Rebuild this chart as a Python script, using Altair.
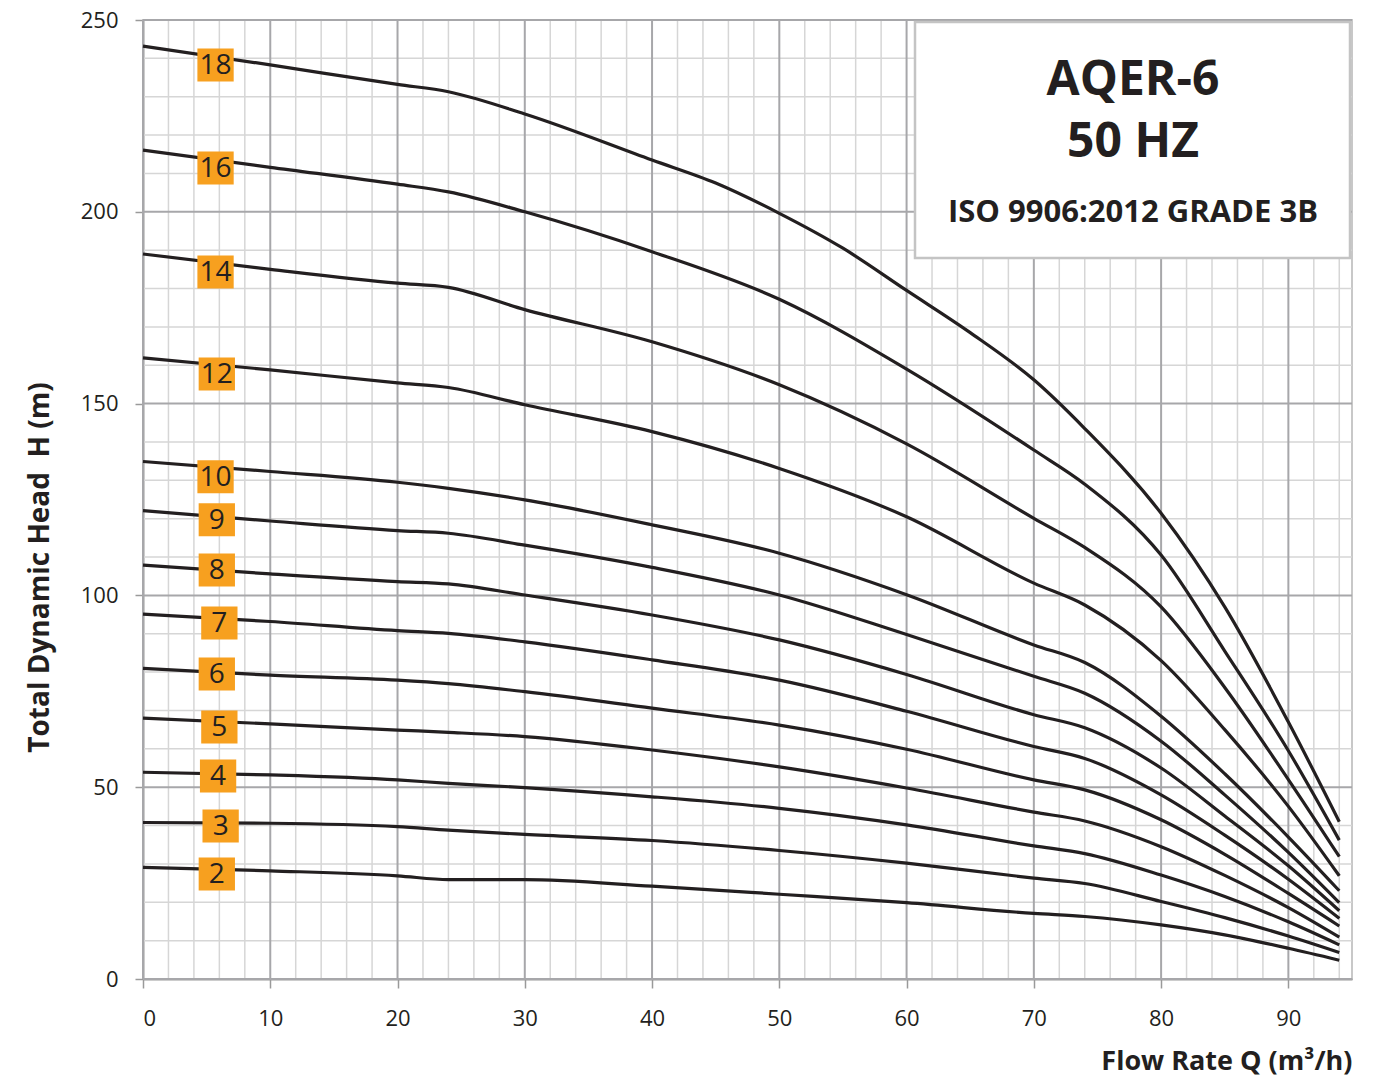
import altair as alt
import pandas as pd

# ---------------- data ----------------
Q_common = [0, 10, 20, 24, 30, 40, 50, 60, 70, 74, 80, 85, 90, 94]
Q_18 = [0, 10, 20, 24, 30, 40, 45, 50, 55, 60, 65, 70, 74, 80, 85, 90, 94]

H_18 = [243.2, 238.3, 233.2, 231.3, 225.5, 213.5, 207.5, 199.6, 190.5, 179.5, 168.5, 156.2, 143.5, 121.4, 97.0, 67.0, 41.0]
H_16 = [216.1, 211.6, 207.2, 205.2, 200.0, 189.6, 177.2, 159.0, 137.9, 129.0, 110.5, 85.5, 59.5, 36.2]
H_14 = [189.0, 185.0, 181.4, 180.3, 174.5, 166.1, 154.9, 139.5, 120.1, 112.5, 97.0, 76.0, 52.0, 31.9]
H_12 = [161.9, 158.8, 155.4, 154.2, 149.7, 142.7, 133.1, 120.5, 103.2, 97.5, 83.0, 65.0, 45.0, 26.9]
H_10 = [134.9, 132.3, 129.5, 127.9, 124.9, 118.4, 111.0, 100.2, 87.1, 82.5, 68.5, 53.5, 37.0, 23.0]
H_9 = [122.1, 119.4, 116.9, 116.2, 113.1, 107.3, 100.1, 89.8, 78.9, 74.5, 62.0, 48.0, 33.0, 19.9]
H_8 = [107.9, 105.6, 103.6, 103.0, 100.1, 94.9, 88.4, 79.4, 68.9, 65.5, 55.0, 42.5, 29.5, 17.8]
H_7 = [95.1, 93.2, 90.8, 90.1, 87.9, 83.2, 77.9, 69.8, 60.6, 57.5, 48.0, 37.5, 26.0, 15.8]
H_6 = [81.0, 79.2, 77.9, 77.0, 74.9, 70.6, 66.2, 59.9, 51.9, 49.3, 41.5, 32.5, 22.3, 13.8]
H_5 = [68.0, 66.5, 64.9, 64.3, 63.2, 59.7, 55.3, 49.8, 43.5, 41.2, 34.5, 27.0, 18.6, 10.9]
H_4 = [53.9, 53.2, 51.9, 51.0, 49.9, 47.5, 44.5, 40.2, 34.7, 32.7, 27.1, 21.5, 14.9, 8.9]
H_3 = [40.8, 40.6, 39.7, 38.8, 37.7, 36.1, 33.5, 30.2, 26.3, 24.9, 20.2, 16.0, 11.2, 6.9]
H_2 = [29.1, 28.2, 26.9, 25.9, 25.9, 24.2, 22.1, 19.9, 17.1, 16.3, 14.1, 11.5, 8.0, 4.9]

curves = {
    18: (Q_18, H_18), 16: (Q_common, H_16), 14: (Q_common, H_14),
    12: (Q_common, H_12), 10: (Q_common, H_10), 9: (Q_common, H_9),
    8: (Q_common, H_8), 7: (Q_common, H_7), 6: (Q_common, H_6),
    5: (Q_common, H_5), 4: (Q_common, H_4), 3: (Q_common, H_3),
    2: (Q_common, H_2),
}

label_text = ["18", "16", "14", "12", "10", "9", "8", "7", "6", "5", "4", "3", "2"]
label_q = [5.7, 5.7, 5.7, 5.8, 5.7, 5.8, 5.8, 6.0, 5.8, 6.0, 5.9, 6.1, 5.8]
label_h = [238.3, 211.4, 184.3, 157.7, 130.9, 119.7, 106.6, 92.8, 79.5, 65.7, 52.9, 39.9, 27.4]

box_lines = ["AQER-6", "50 HZ", "ISO 9906:2012 GRADE 3B"]

x_major = list(range(0, 91, 10))
x_minor = [v for v in range(0, 96, 2) if v % 10 != 0]
y_major = list(range(0, 251, 50))
y_minor = [v for v in range(0, 251, 10) if v % 50 != 0]

# ---------------- frames ----------------
rows = []
for st, (qs, hs) in curves.items():
    for q, h in zip(qs, hs):
        rows.append({"Q": q, "H": h, "stage": st})
df = pd.DataFrame(rows)
labels = pd.DataFrame({"Q": label_q, "H": label_h, "t": label_text})

W, Hh = 1209, 959
INK = "#231f20"
FONT = "Open Sans"
XT = "Flow Rate Q (m³/h)"
YT = "Total Dynamic Head\u00a0\u00a0H (m)"

xs = alt.Scale(domain=[0, 95], nice=False)
ys = alt.Scale(domain=[0, 250], nice=False)

x_axis = alt.Axis(
    values=x_major, grid=False, tickSize=9, tickWidth=1.5, tickColor="#9a9a9a",
    domainColor="#9a9a9a", domainWidth=2, labelFont=FONT, labelFontSize=22,
    labelColor=INK, labelPadding=20,
    title=XT, titleFont=FONT, titleFontSize=27, titleFontWeight="bold",
    titleColor=INK, titleX=W, titleY=82, titleAlign="right", titleBaseline="middle")
y_axis = alt.Axis(
    values=y_major, grid=False, tickSize=8, tickWidth=1.5, tickColor="#9a9a9a",
    domainColor="#9a9a9a", domainWidth=2, labelFont=FONT, labelFontSize=22,
    labelColor=INK, labelPadding=17,
    title=YT, titleFont=FONT, titleFontSize=28,
    titleFontWeight="bold", titleColor=INK, titleX=-103, titleY=547,
    titleAngle=270, titleAlign="center", titleBaseline="middle")

def X(f):
    return alt.X(f, scale=xs, axis=x_axis, title=XT)

def Y(f):
    return alt.Y(f, scale=ys, axis=y_axis, title=YT)

minor_x = alt.Chart(pd.DataFrame({"v": x_minor})).mark_rule(color="#d6d6d6", strokeWidth=1.5).encode(
    x=X("v:Q"))
minor_y = alt.Chart(pd.DataFrame({"v": y_minor})).mark_rule(color="#d6d6d6", strokeWidth=1.5).encode(
    y=Y("v:Q"))
major_x = alt.Chart(pd.DataFrame({"v": x_major})).mark_rule(color="#a7a7aa", strokeWidth=2).encode(
    x=X("v:Q"))
major_y = alt.Chart(pd.DataFrame({"v": y_major})).mark_rule(color="#a7a7aa", strokeWidth=2).encode(
    y=Y("v:Q"))

lines = alt.Chart(df).mark_line(color=INK, strokeWidth=3.2, interpolate="monotone").encode(
    x=X("Q:Q"), y=Y("H:Q"), detail="stage:N",
)

box = alt.Chart(pd.DataFrame({"a": [0]})).mark_rect(
    fill="white", stroke="#c4c4c4", strokeWidth=2.5).encode(
    x=alt.value(772), x2=alt.value(1207), y=alt.value(2), y2=alt.value(238))

box_df = pd.DataFrame({"t": box_lines, "yy": [61, 123, 193]})
box_text1 = alt.Chart(box_df.iloc[:2]).mark_text(
    font=FONT, fontWeight="bold", fontSize=48, color=INK, baseline="middle", align="center").encode(
    x=alt.value(990), y=alt.Y("yy:Q", scale=None), text="t:N")
box_text2 = alt.Chart(box_df.iloc[2:]).mark_text(
    font=FONT, fontWeight="bold", fontSize=31, color=INK, baseline="middle", align="center").encode(
    x=alt.value(990), y=alt.Y("yy:Q", scale=None), text="t:N")

lab_box = alt.Chart(labels).mark_point(
    shape="M-1.1,-1H1.1V1H-1.1Z", filled=True, fill="#f7a01f", opacity=1, strokeWidth=0,
    size=1089).encode(x=X("Q:Q"), y=Y("H:Q"))
lab_txt = alt.Chart(labels).mark_text(
    font=FONT, fontSize=28, color=INK, baseline="middle", align="center", dy=1).encode(
    x=X("Q:Q"), y=Y("H:Q"), text="t:N")

chart = alt.layer(
    minor_x, minor_y, major_x, major_y, lines, box, box_text1, box_text2, lab_box, lab_txt
).properties(
    width=W, height=Hh,
    autosize=alt.AutoSizeParams(type="none"),
    padding={"left": 135, "top": 12, "right": 14, "bottom": 100},
    background="white",
).configure_view(stroke="#c8c8c8", strokeWidth=2)

chart.save("out.html", embed_options={"renderer": "svg", "actions": False})
